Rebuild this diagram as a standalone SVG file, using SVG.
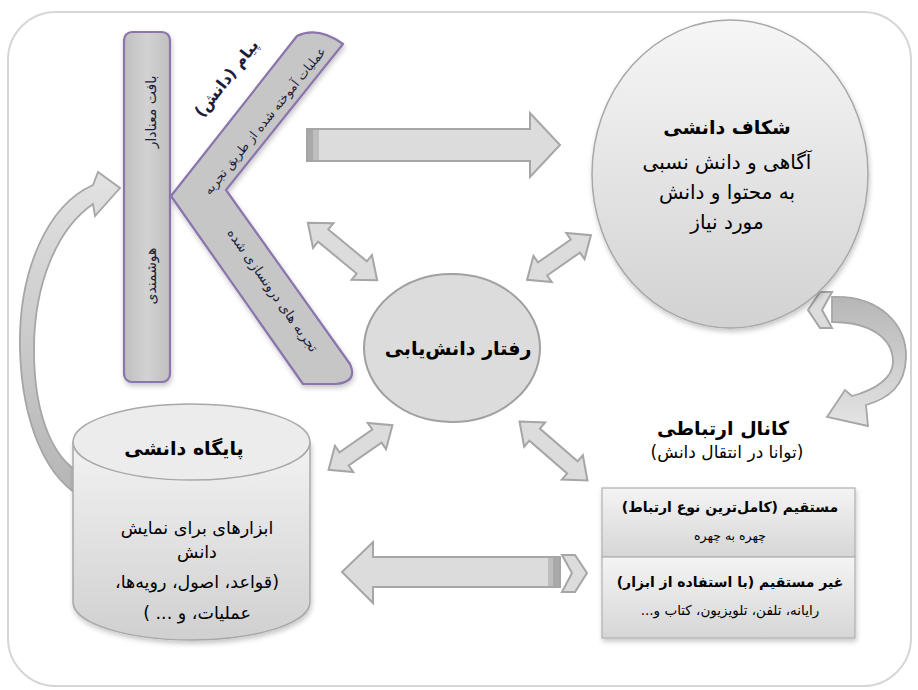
<svg xmlns="http://www.w3.org/2000/svg" width="918" height="690" viewBox="0 0 918 690">
<defs>
<style>
.fa{font-family:"DejaVu Sans",sans-serif;direction:rtl;text-anchor:middle;fill:#000}
.b{font-weight:bold}
.kt{fill:#1c1c3c}
.arr{fill:#dcdcdc;stroke:#a6a6a6;stroke-width:2;stroke-linejoin:miter}
.kshape{stroke:#8a74ad;stroke-width:2.2;stroke-linejoin:round}
</style>
<linearGradient id="gCircle" x1="0" y1="0" x2="0" y2="1"><stop offset="0" stop-color="#f6f6f6"/><stop offset="1" stop-color="#d2d2d2"/></linearGradient>
<linearGradient id="gCyl" x1="0" y1="0" x2="0" y2="1"><stop offset="0" stop-color="#f2f2f2"/><stop offset="1" stop-color="#d0d0d0"/></linearGradient>
<linearGradient id="gBox" x1="0" y1="0" x2="0" y2="1"><stop offset="0" stop-color="#f4f4f4"/><stop offset="1" stop-color="#d6d6d6"/></linearGradient>
<linearGradient id="gK" x1="0" y1="0" x2="1" y2="0"><stop offset="0" stop-color="#bfbfbf"/><stop offset="0.5" stop-color="#d2d2d2"/><stop offset="1" stop-color="#bfbfbf"/></linearGradient>
<linearGradient id="gLeftCurve" x1="0" y1="0" x2="0" y2="1"><stop offset="0" stop-color="#e2e2e2"/><stop offset="1" stop-color="#b4b4b4"/></linearGradient>
<linearGradient id="gRightCurve" x1="0" y1="0" x2="0" y2="1"><stop offset="0" stop-color="#b6b6b6"/><stop offset="1" stop-color="#e4e4e4"/></linearGradient>
<filter id="sh" x="-10%" y="-10%" width="130%" height="130%"><feDropShadow dx="1" dy="3" stdDeviation="2.5" flood-color="#000" flood-opacity="0.22"/></filter>
<polygon id="dblLong" points="-45,0 -25,-16 -25,-8 25,-8 25,-16 45,0 25,16 25,8 -25,8 -25,16"/>
<polygon id="dblShort" points="-39,0 -20,-16 -20,-8 20,-8 20,-16 39,0 20,16 20,8 -20,8 -20,16"/>
</defs>

<rect x="0" y="0" width="918" height="690" fill="#ffffff"/>
<rect id="frame" x="8" y="12" width="903" height="674" rx="48" fill="none" stroke="#d6d6d6" stroke-width="2"/>

<g id="connectors">
  <g id="arrow-top">
    <polygon class="arr" points="307,129 530,129 530,113 560,145 530,177 530,161 307,161"/>
    <rect x="308" y="130" width="5" height="30" fill="#a9a9a9"/>
    <rect x="313" y="130" width="6" height="30" fill="#bebebe"/>
  </g>
  <g id="arrow-bottom">
    <polygon class="arr" points="342,572 373,542 373,557 560,557 560,587 373,587 373,603"/>
    <rect x="548" y="558" width="5" height="28" fill="#bebebe"/>
    <rect x="553" y="558" width="6" height="28" fill="#a9a9a9"/>
    <polygon class="arr" points="562,555 575,555 587,573 575,592 562,592 572,573"/>
  </g>
  <use href="#dblLong" class="arr" transform="translate(342.5,251.5) rotate(39.6)"/>
  <use href="#dblShort" class="arr" transform="translate(559,257.5) rotate(-35)"/>
  <use href="#dblShort" class="arr" transform="translate(360.5,447.5) rotate(-35)"/>
  <use href="#dblLong" class="arr" transform="translate(553.5,451) rotate(41)"/>
  <path id="arrow-left-curve" d="M93,185 C48,205 18,270 20,350 C22,420 45,482 88,500 L88,476 C56,466 34,420 34,350 C34,282 58,228 93,204 L95,216 L120,188 L98,172 Z" fill="url(#gLeftCurve)" stroke="#a6a6a6" stroke-width="1.8" stroke-linejoin="miter"/>
  <g id="arrow-right-curve">
    <path d="M832,297 C880,295 907,325 906,358 C905,385 890,398 866,405 L868,426 L827,417 L845,390 L852,396 C875,390 893,378 893,362 C893,338 870,322 832,322 Z" fill="url(#gRightCurve)" stroke="#a6a6a6" stroke-width="1.8"/>
    <polygon class="arr" points="832,292 820,292 808,310 820,328 832,328 822,310"/>
  </g>
</g>

<g id="node-k" filter="url(#sh)">
  <rect class="kshape" x="124" y="32" width="46" height="350" rx="8" fill="url(#gK)"/>
  <path class="kshape" d="M171,196 L297,36 Q318,26 343,44 L226,190 L350,364 Q358,382 336,384 L303,384 Z" fill="#c6c6c6"/>
</g>
<g id="k-texts">
  <text class="fa kt" font-size="14" transform="translate(151,112) rotate(-90)" y="5">بافت معنادار</text>
  <text class="fa kt" font-size="14" transform="translate(151,276) rotate(-90)" y="5">هوشمندی</text>
  <text class="fa b kt" font-size="16" transform="translate(226,78) rotate(-52)" y="6">پیام (دانش)</text>
  <text class="fa kt" font-size="12.5" transform="translate(265,121) rotate(-51)" y="4">عملیات آموخته شده از طریق تجربه</text>
  <text class="fa kt" font-size="13.5" transform="translate(273,290) rotate(55)" y="5">تجربه های درونسازی شده</text>
</g>

<g id="node-gap">
  <ellipse cx="730" cy="174" rx="138" ry="154" fill="url(#gCircle)" stroke="#a8a8a8" stroke-width="1.5" filter="url(#sh)"/>
  <text class="fa b" font-size="19" x="727" y="134">شکاف دانشی</text>
  <text class="fa" font-size="20" x="727" y="169">آگاهی و دانش نسبی</text>
  <text class="fa" font-size="20" x="727" y="199">به محتوا و دانش</text>
  <text class="fa" font-size="20" x="727" y="229">مورد نیاز</text>
</g>

<g id="node-behavior">
  <ellipse cx="452" cy="348" rx="88" ry="74" fill="#dcdcdc" stroke="#a0a0a0" stroke-width="2"/>
  <text class="fa b" font-size="19" x="458" y="355">رفتار دانش&#8204;یابی</text>
</g>

<g id="node-base">
  <path d="M73,442 L73,602 A118.5,38 0 0 0 310,602 L310,442 Z" fill="url(#gCyl)" stroke="#a8a8a8" stroke-width="1.5" filter="url(#sh)"/>
  <ellipse cx="191.5" cy="442" rx="118.5" ry="38" fill="#ececec" stroke="#a8a8a8" stroke-width="1.5"/>
  <text class="fa b" font-size="19" x="184" y="455">پایگاه دانشی</text>
  <text class="fa" font-size="17.5" x="197" y="534">ابزارهای برای نمایش</text>
  <text class="fa" font-size="17.5" x="197" y="558">دانش</text>
  <text class="fa" font-size="17.5" x="197" y="588">(قواعد، اصول، رویه&#8204;ها،</text>
  <text class="fa" font-size="17.5" x="197" y="619">عملیات، و ... )</text>
</g>

<g id="node-channel">
  <text class="fa b" font-size="19" x="723" y="435">کانال ارتباطی</text>
  <text class="fa" font-size="17" x="727" y="458">(توانا در انتقال دانش)</text>
  <g filter="url(#sh)">
    <rect x="602" y="488" width="253" height="69" fill="url(#gBox)" stroke="#b0b0b0" stroke-width="1.2"/>
    <rect x="602" y="557" width="253" height="81" fill="url(#gBox)" stroke="#b0b0b0" stroke-width="1.2"/>
  </g>
  <text class="fa b" font-size="14" x="730" y="512">مستقیم (کامل&#8204;ترین نوع ارتباط)</text>
  <text class="fa" font-size="12.5" x="730" y="540">چهره به چهره</text>
  <text class="fa b" font-size="14" x="730" y="587">غیر مستقیم (با استفاده از ابزار)</text>
  <text class="fa" font-size="13.5" x="730" y="615">رایانه، تلفن، تلویزیون، کتاب و...</text>
</g>
</svg>
